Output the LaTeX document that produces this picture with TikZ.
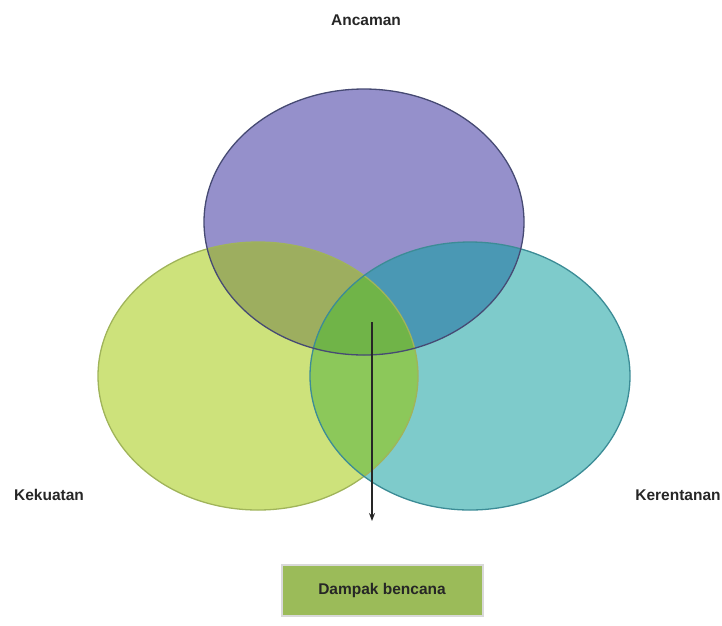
\documentclass[tikz,border=0pt]{standalone}
\usepackage{fontspec}
\setmainfont{Liberation Sans}
\usetikzlibrary{arrows.meta}

\definecolor{ancamanfill}{RGB}{149,144,203}
\definecolor{kekuatanfill}{RGB}{205,226,123}
\definecolor{kerentananfill}{RGB}{126,203,203}
\definecolor{akfill}{RGB}{157,174,95}
\definecolor{arfill}{RGB}{74,152,180}
\definecolor{krfill}{RGB}{140,200,90}
\definecolor{tengahfill}{RGB}{112,180,72}
\definecolor{ancamanrim}{RGB}{70,74,115}
\definecolor{kekuatanrim}{RGB}{160,180,90}
\definecolor{kerentananrim}{RGB}{60,140,150}
\definecolor{dampakfill}{RGB}{155,187,89}

\begin{document}
\begin{tikzpicture}[x=1pt, y=-1pt,
	label/.style={font=\fontsize{15.5}{18}\selectfont\bfseries, text=black!85},
	rim/.style={line width=1.3pt},
	dampakbox/.style={draw=black!15, line width=2pt, fill=dampakfill, minimum width=201pt, minimum height=51pt, inner sep=0pt, font=\fontsize{15.5}{18}\selectfont\bfseries, text=black!85}]
	\useasboundingbox (0,0) rectangle (722,625);

	\coordinate (ancaman) at (364,222);
	\coordinate (kekuatan) at (258,376);
	\coordinate (kerentanan) at (470,376);

	\fill [kekuatanfill] (kekuatan) ellipse [x radius=160, y radius=134];
	\fill [kerentananfill] (kerentanan) ellipse [x radius=160, y radius=134];
	\fill [ancamanfill] (ancaman) ellipse [x radius=160, y radius=133];

	\begin{scope}
		\clip (kekuatan) ellipse [x radius=160, y radius=134];
		\fill [krfill] (kerentanan) ellipse [x radius=160, y radius=134];
	\end{scope}
	\begin{scope}
		\clip (ancaman) ellipse [x radius=160, y radius=133];
		\fill [akfill] (kekuatan) ellipse [x radius=160, y radius=134];
		\fill [arfill] (kerentanan) ellipse [x radius=160, y radius=134];
		\clip (kekuatan) ellipse [x radius=160, y radius=134];
		\fill [tengahfill] (kerentanan) ellipse [x radius=160, y radius=134];
	\end{scope}

	\draw [rim, kekuatanrim] (kekuatan) ellipse [x radius=160, y radius=134];
	\draw [rim, kerentananrim] (kerentanan) ellipse [x radius=160, y radius=134];
	\draw [rim, ancamanrim] (ancaman) ellipse [x radius=160, y radius=133];

	\node [label] (lancaman) at (366,20) {Ancaman};
	\node [label] (lkekuatan) at (49,495) {Kekuatan};
	\node [label] (lkerentanan) at (678,495) {Kerentanan};

	\node [dampakbox] (dampak) at (382,590) {Dampak bencana};
	\coordinate (pusat) at (372,322);
	\coordinate (ujung) at (372,521);
	\draw [-{Stealth[length=8pt, width=6pt]}, line width=1.5pt, black!85] (pusat) -- (ujung);

\end{tikzpicture}
\end{document}
